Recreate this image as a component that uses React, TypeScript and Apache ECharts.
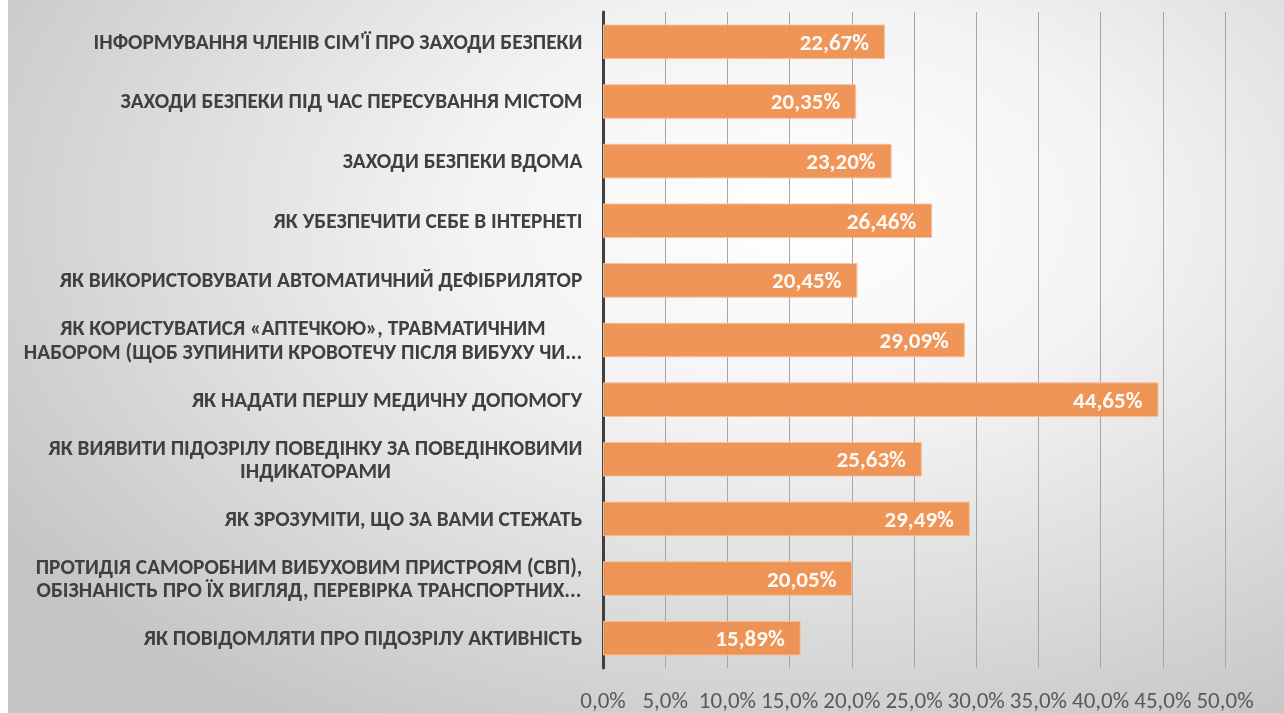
import React, { useEffect, useRef } from "react";
import * as echarts from "echarts";

const categories: string[] = [
  "ІНФОРМУВАННЯ ЧЛЕНІВ СІМ'Ї ПРО ЗАХОДИ БЕЗПЕКИ",
  "ЗАХОДИ БЕЗПЕКИ ПІД ЧАС ПЕРЕСУВАННЯ МІСТОМ",
  "ЗАХОДИ БЕЗПЕКИ ВДОМА",
  "ЯК УБЕЗПЕЧИТИ СЕБЕ В ІНТЕРНЕТІ",
  "ЯК ВИКОРИСТОВУВАТИ АВТОМАТИЧНИЙ ДЕФІБРИЛЯТОР",
  "ЯК КОРИСТУВАТИСЯ «АПТЕЧКОЮ», ТРАВМАТИЧНИМ\nНАБОРОМ (ЩОБ ЗУПИНИТИ КРОВОТЕЧУ ПІСЛЯ ВИБУХУ ЧИ...",
  "ЯК НАДАТИ ПЕРШУ МЕДИЧНУ ДОПОМОГУ",
  "ЯК ВИЯВИТИ ПІДОЗРІЛУ ПОВЕДІНКУ ЗА ПОВЕДІНКОВИМИ\nІНДИКАТОРАМИ",
  "ЯК ЗРОЗУМІТИ, ЩО ЗА ВАМИ СТЕЖАТЬ",
  "ПРОТИДІЯ САМОРОБНИМ ВИБУХОВИМ ПРИСТРОЯМ (СВП),\nОБІЗНАНІСТЬ ПРО ЇХ ВИГЛЯД, ПЕРЕВІРКА ТРАНСПОРТНИХ...",
  "ЯК ПОВІДОМЛЯТИ ПРО ПІДОЗРІЛУ АКТИВНІСТЬ",
];

const values: number[] = [22.67, 20.35, 23.2, 26.46, 20.45, 29.09, 44.65, 25.63, 29.49, 20.05, 15.89];

const axisMin = 0;
const axisMax = 50;
const axisStep = 5;

const FONT = "Carlito, 'Open Sans', sans-serif";
const LABEL_FONT_SIZE = 21.3;

function measure(text: string, font: string): number {
  const c = document.createElement("canvas");
  const ctx = c.getContext("2d");
  if (!ctx) return text.length * 10;
  ctx.font = font;
  return ctx.measureText(text).width;
}

export default function App() {
  const ref = useRef<HTMLDivElement>(null);

  useEffect(() => {
    if (!ref.current) return;
    const chart = echarts.init(ref.current, undefined, { renderer: "svg" });

    const font = `bold ${LABEL_FONT_SIZE}px ${FONT}`;
    const rich: Record<string, any> = {};
    categories.forEach((c, i) => {
      const lines = c.split("\n");
      const w = Math.max(...lines.map((l) => measure(l, font)));
      rich["l" + i] = {
        width: Math.ceil(w) + 1,
        align: "center",
        fontFamily: FONT,
        fontSize: LABEL_FONT_SIZE,
        fontWeight: "bold",
        color: "#404040",
        lineHeight: 23.5,
      };
    });

    chart.setOption({
      animation: false,
      backgroundColor: "transparent",
      grid: { left: 595, right: 59, top: 12, bottom: 45, containLabel: false },
      xAxis: {
        type: "value",
        min: axisMin,
        max: axisMax,
        interval: axisStep,
        axisLine: { show: false },
        axisTick: { show: false },
        splitLine: { show: true, lineStyle: { color: "#a6a6a6", width: 1 } },
        axisLabel: {
          formatter: (v: number) => v.toFixed(1).replace(".", ",") + "%",
          color: "#595959",
          fontSize: 23,
          fontFamily: FONT,
          margin: 20,
        },
      },
      yAxis: {
        type: "category",
        data: categories,
        inverse: true,
        axisLine: { show: true, lineStyle: { color: "#404040", width: 3 } },
        axisTick: { show: false },
        splitLine: { show: false },
        axisLabel: {
          margin: 20,
          interval: 0,
          formatter: (v: string) => {
            const i = categories.indexOf(v);
            return v
              .split("\n")
              .map((l) => `{l${i}|${l}}`)
              .join("\n");
          },
          rich,
        },
      },
      series: [
        {
          type: "bar",
          data: values,
          barWidth: "58%",
          itemStyle: {
            color: "#ee8f4f",
            borderColor: "#f7c29c",
            borderWidth: 1,
            opacity: 0.95,
          },
          label: {
            show: true,
            position: "insideRight",
            distance: 16,
            formatter: (p: any) => p.value.toFixed(2).replace(".", ",") + "%",
            color: "#ffffff",
            fontWeight: "bold",
            fontSize: 23,
            fontFamily: FONT,
          },
        },
      ],
    });

    return () => chart.dispose();
  }, []);

  return (
    <div
      style={{
        position: "fixed",
        left: 8,
        top: 0,
        width: 1276,
        height: 713,
        background:
          "radial-gradient(ellipse 75% 85% at 62% 30%, #ffffff 0%, #f3f3f3 35%, #d6d6d6 75%, #c4c4c4 100%)",
      }}
    >
      <div ref={ref} style={{ width: 1276, height: 713 }} />
    </div>
  );
}
